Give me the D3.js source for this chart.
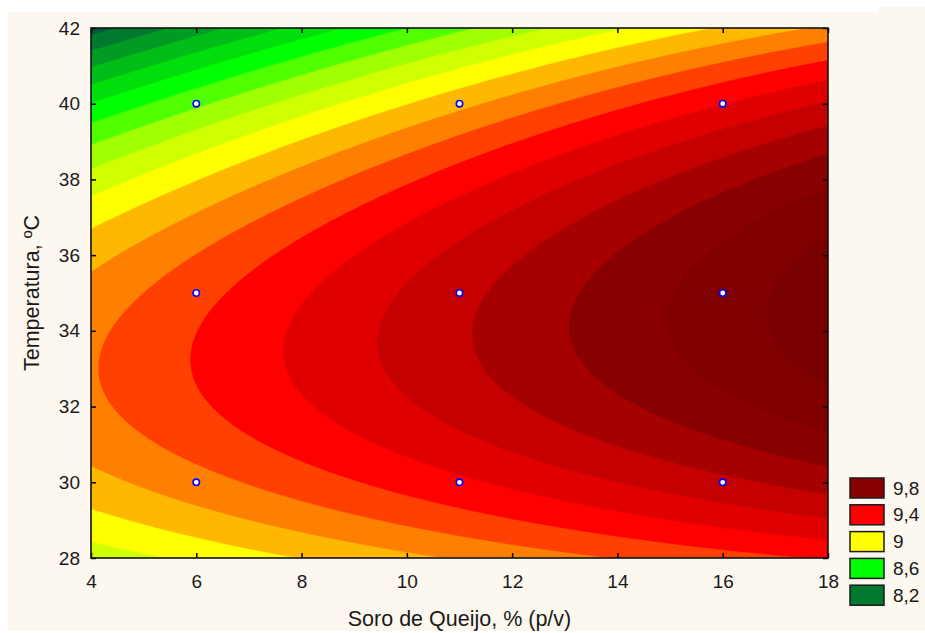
<!DOCTYPE html>
<html>
<head>
<meta charset="utf-8">
<script src="https://cdn.jsdelivr.net/npm/d3@7"></script>
<style>
    body { margin: 0; background: #ffffff; }
    text { font-family: "Liberation Sans", Arial, sans-serif; fill: #1a1a1a; }
</style>
</head>
<body>
<div id="container"></div>
<script>
// 3x3 design: the points marked on the chart
var soro = [6, 11, 16];
var temperatura = [30, 35, 40];
// response read at each design point (rows = temperatura, cols = soro)
var resposta = [
    [9.260, 9.479, 9.674],
    [9.364, 9.669, 9.950],
    [8.777, 9.169, 9.496]
];

var xTicks = [4, 6, 8, 10, 12, 14, 16, 18];
var yTicks = [28, 30, 32, 34, 36, 38, 40, 42];
var legendValues = [9.8, 9.4, 9, 8.6, 8.2];
var legendLabels = ['9,8', '9,4', '9', '8,6', '8,2'];
var levelStep = 0.1;

(function () {
    var W = 925, H = 633;
    var margin = { left: 91, top: 28, right: 97, bottom: 75 };
    var width = W - margin.left - margin.right;    // 737
    var height = H - margin.top - margin.bottom;   // 530

    var svg = d3.select('#container').append('svg')
        .attr('width', W)
        .attr('height', H);

    // background (cream, with a thin white strip top/left)
    svg.append('rect').attr('width', W).attr('height', H).attr('fill', '#ffffff');
    svg.append('rect').attr('x', 8).attr('y', 12).attr('width', W - 8).attr('height', H - 14).attr('fill', '#fdf8ef');
    svg.append('rect').attr('x', 878).attr('y', 7).attr('width', W - 878).attr('height', 6).attr('fill', '#fdf8ef');

    var g = svg.append('g').attr('transform', 'translate(' + margin.left + ',' + margin.top + ')');

    var x = d3.scaleLinear().domain([4, 18]).range([0, width]);
    var y = d3.scaleLinear().domain([28, 42]).range([height, 0]);

    // full second order model with interactions through the 9 points
    // (coded variables -1, 0, 1)
    function lag(t) {
        return [t * (t - 1) / 2, 1 - t * t, t * (t + 1) / 2];
    }
    function model(s, t) {
        var la = lag((s - 11) / 5), lb = lag((t - 35) / 5);
        var z = 0;
        for (var i = 0; i < 3; i++)
            for (var j = 0; j < 3; j++)
                z += resposta[i][j] * lb[i] * la[j];
        return z;
    }

    // evaluate on a grid
    var nx = 371, ny = 281;
    var dx = 14 / (nx - 1), dy = 14 / (ny - 1);
    var values = new Array(nx * ny);
    for (var jj = 0; jj < ny; jj++) {
        for (var ii = 0; ii < nx; ii++) {
            values[jj * nx + ii] = model(4 + ii * dx, 28 + jj * dy);
        }
    }
    var zMin = d3.min(values), zMax = d3.max(values);
    var thresholds = d3.range(Math.floor(zMin / levelStep), Math.ceil(zMax / levelStep) + 1)
        .map(function (d) { return +(d * levelStep).toFixed(2); });

    var color = d3.scaleLinear()
        .domain([8.2, 8.6, 8.7, 8.8, 8.9, 9.0, 9.1, 9.2, 9.3, 9.4, 9.8, 10.0])
        .range(['#007a2e', '#00ff00', '#50ff00', '#a0ff00', '#d0ff00', '#ffff00',
                '#ffb800', '#ff8000', '#ff4000', '#ff0000', '#880000', '#780000']);

    var contours = d3.contours().size([nx, ny]).thresholds(thresholds)(values);

    var proj = d3.geoTransform({
        point: function (px, py) {
            this.stream.point(x(4 + (px - 0.5) * dx), y(28 + (py - 0.5) * dy));
        }
    });
    var path = d3.geoPath(proj);

    g.append('clipPath').attr('id', 'plotclip')
        .append('rect').attr('width', width).attr('height', height);

    var surf = g.append('g').attr('clip-path', 'url(#plotclip)');
    surf.append('rect')
        .attr('width', width).attr('height', height)
        .attr('fill', color(thresholds[0] - levelStep));
    surf.selectAll('path.band')
        .data(contours)
        .enter()
        .append('path')
        .attr('class', 'band')
        .attr('d', path)
        .attr('fill', function (d) { return color(d.value); })
        .attr('stroke', function (d) { return color(d.value); })
        .attr('stroke-width', 0.5);

    // design points
    var pts = [];
    temperatura.forEach(function (t) { soro.forEach(function (s) { pts.push([s, t]); }); });
    g.selectAll('circle.pt')
        .data(pts)
        .enter()
        .append('circle')
        .attr('class', 'pt')
        .attr('cx', function (d) { return x(d[0]); })
        .attr('cy', function (d) { return y(d[1]); })
        .attr('r', 3.2)
        .attr('fill', '#ffffff')
        .attr('stroke', '#0000ff')
        .attr('stroke-width', 1.6);

    // axes, ticks pointing inwards
    var fs = '19px';
    g.append('g').attr('transform', 'translate(0,' + height + ')')
        .call(d3.axisBottom(x).tickValues(xTicks).tickSizeInner(-5).tickSizeOuter(0).tickPadding(17));
    g.append('g')
        .call(d3.axisLeft(y).tickValues(yTicks).tickSizeInner(-5).tickSizeOuter(0).tickPadding(11));
    g.append('g')
        .call(d3.axisTop(x).tickValues(xTicks).tickSizeInner(-5).tickSizeOuter(0).tickFormat(''));
    g.append('g').attr('transform', 'translate(' + width + ',0)')
        .call(d3.axisRight(y).tickValues(yTicks).tickSizeInner(-5).tickSizeOuter(0).tickFormat(''));
    g.selectAll('.domain').remove();
    g.selectAll('.tick line').attr('stroke', '#000').attr('stroke-width', 1.5);
    g.selectAll('.tick text').style('font-size', fs).attr('fill', '#1a1a1a');

    g.append('rect')
        .attr('width', width).attr('height', height)
        .attr('fill', 'none')
        .attr('stroke', '#111')
        .attr('stroke-width', 1.6);

    // axis titles
    svg.append('text')
        .attr('x', margin.left + width / 2)
        .attr('y', 626)
        .attr('text-anchor', 'middle')
        .style('font-size', '21.5px')
        .text('Soro de Queijo, % (p/v)');
    svg.append('text')
        .attr('transform', 'translate(39,' + (margin.top + height / 2) + ') rotate(-90)')
        .attr('text-anchor', 'middle')
        .style('font-size', '21.5px')
        .text('Temperatura, ºC');

    // legend
    var leg = svg.append('g').attr('transform', 'translate(850,478)');
    var item = leg.selectAll('g.item')
        .data(legendValues)
        .enter()
        .append('g')
        .attr('class', 'item')
        .attr('transform', function (d, i) { return 'translate(0,' + (i * 26.8) + ')'; });
    item.append('rect')
        .attr('width', 34).attr('height', 20)
        .attr('fill', function (d) { return color(d); })
        .attr('stroke', '#1a1a1a')
        .attr('stroke-width', 1.5);
    item.append('text')
        .attr('x', 43)
        .attr('y', 16.5)
        .style('font-size', '19px')
        .text(function (d, i) { return legendLabels[i]; });
})();
</script>
</body>
</html>
